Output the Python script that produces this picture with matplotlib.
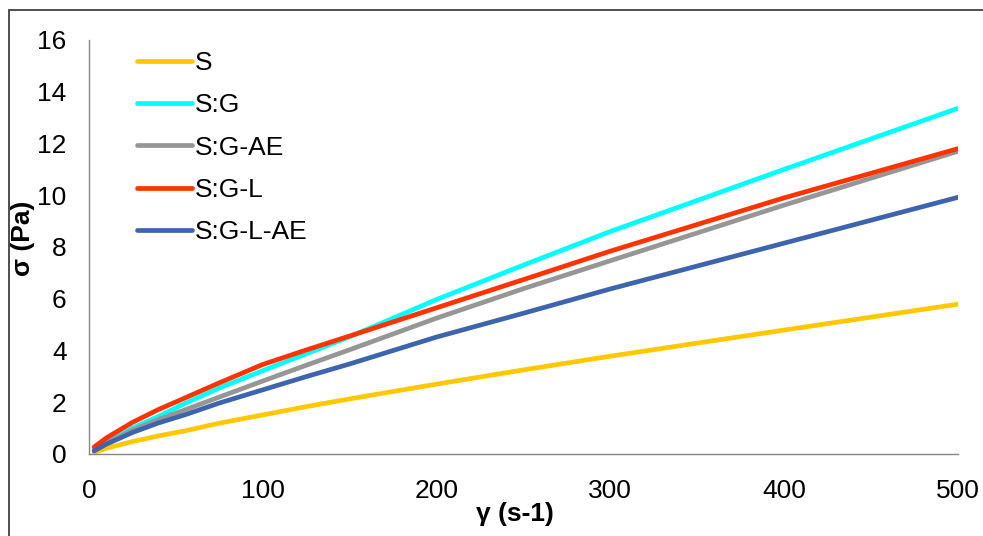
import numpy as np
import matplotlib
matplotlib.use("Agg")
import matplotlib.pyplot as plt
from matplotlib.patches import Rectangle

plt.rcParams['font.family'] = ['Liberation Sans', 'DejaVu Sans']

# shear rate (s-1) and shear stress (Pa)
shear = [3, 10, 25, 40, 55, 75, 100, 125, 150, 200, 250, 300, 400, 500]
s_vals = [0.06, 0.22, 0.48, 0.70, 0.89, 1.19, 1.51, 1.83, 2.13, 2.70, 3.25, 3.78, 4.79, 5.79]
sg_vals = [0.15, 0.45, 1.0, 1.45, 1.95, 2.55, 3.22, 3.87, 4.53, 5.97, 7.3, 8.6, 11.0, 13.36]
sgae_vals = [0.15, 0.42, 0.92, 1.33, 1.70, 2.2, 2.82, 3.43, 4.03, 5.25, 6.39, 7.47, 9.62, 11.7]
sgl_vals = [0.27, 0.62, 1.22, 1.72, 2.16, 2.75, 3.46, 4.02, 4.56, 5.65, 6.74, 7.84, 9.9, 11.8]
sglae_vals = [0.12, 0.38, 0.83, 1.2, 1.51, 1.97, 2.48, 2.99, 3.48, 4.52, 5.44, 6.38, 8.15, 9.92]

labels = ['S', 'S:G', 'S:G-AE', 'S:G-L', 'S:G-L-AE']
colors = ['#FFC800', '#00FFFF', '#969696', '#FF3300', '#3E64AE']
series = [s_vals, sg_vals, sgae_vals, sgl_vals, sglae_vals]

fig = plt.figure(figsize=(9.83, 5.36), dpi=100)
ax = fig.add_axes([0.0905, 0.153, 0.8841, 0.7724])

for vals, lab, col in zip(series, labels, colors):
    ax.plot(shear, vals, color=col, lw=3.4, label=lab,
            solid_capstyle='round', solid_joinstyle='round')

ax.set_xlim(0, 500)
ax.set_ylim(0, 16)
ax.set_xticks(np.arange(0, 501, 100))
ax.set_yticks(np.arange(0, 17, 2))
ax.tick_params(length=0, labelsize=19)
ax.tick_params(axis='x', pad=18)
ax.tick_params(axis='y', pad=16)

for side in ['top', 'right']:
    ax.spines[side].set_visible(False)
for side in ['left', 'bottom']:
    ax.spines[side].set_color('#868686')
    ax.spines[side].set_linewidth(1.0)

ax.set_xlabel('γ (s-1)', fontsize=19, fontweight='bold')
ax.xaxis.set_label_coords(0.49, -0.117)
ax.set_ylabel('σ (Pa)', fontsize=19, fontweight='bold')
ax.yaxis.set_label_coords(-0.062, 0.52)

ax.legend(loc='upper left', bbox_to_anchor=(0.055, 0.973), frameon=False,
          fontsize=19, handlelength=2.1, handletextpad=0.1, labelspacing=0.69,
          borderpad=0, borderaxespad=0)

# outer frame (only top and left edges fall inside the image)
fig.patches.append(Rectangle((0.009, -0.1), 1.2, 1.081, transform=fig.transFigure,
                             fill=False, edgecolor='#404040', lw=1.3))

fig.savefig('out.png', dpi=100)
